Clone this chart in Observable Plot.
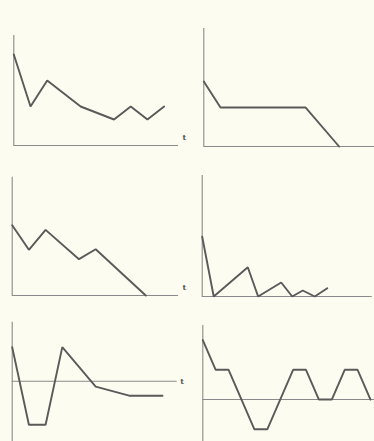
<!DOCTYPE html>
<html>
<head>
<meta charset="utf-8">
<script src="https://cdn.jsdelivr.net/npm/d3@7"></script>
<script src="https://cdn.jsdelivr.net/npm/@observablehq/plot@0.6"></script>
<style>
  html, body { margin: 0; padding: 0; background: #fcfcf0; }
  #chart { position: relative; width: 374px; height: 441px; overflow: hidden; background: #fcfcf0; }
  #chart svg { position: absolute; left: 0; top: 0; }
</style>
</head>
<body>
<div id="chart"></div>
<script>
// Panel data (x = step index, y = value)
const p1X = [0, 1, 2, 4, 6, 7, 8, 9];
const p1Y = [7, 3, 5, 3, 2, 3, 2, 3];

const p2X = [0, 1, 6.1, 8.1];
const p2Y = [5, 3, 3, 0];

const p3X = [0, 1, 2, 4, 5, 8];
const p3Y = [6, 3.9, 5.6, 3.1, 3.95, 0];

const p4X = [0, 0.69, 2.73, 3.35, 4.73, 5.39, 6.02, 6.74, 7.49];
const p4Y = [4.6, 0, 2.25, 0, 1.08, 0, 0.46, 0, 0.64];

const p5X = [0, 1, 2, 3, 5, 7, 9];
const p5Y = [2.35, -3, -3, 2.35, -0.37, -1, -1];

const p6X = [0, 1, 2, 4, 5, 7, 8, 9, 10, 11, 12, 13];
const p6Y = [2, 1, 1, -1, -1, 1, 1, 0, 0, 1, 1, 0];

const axisLabel = "t";

const W = 374, H = 441;
const lineColor = "#5a5a5a";
const axisColor = "#8a8a8a";

function panel(xs, ys, frame, xDomain, yDomain, opts = {}) {
  const data = xs.map((x, i) => ({x, y: ys[i]}));
  const marks = [
    Plot.ruleX([0], {stroke: axisColor, strokeWidth: 1.1}),
    Plot.ruleY([0], {stroke: axisColor, strokeWidth: 1.1}),
    Plot.line(data, {x: "x", y: "y", stroke: lineColor, strokeWidth: 1.9, strokeLinejoin: "miter"})
  ];
  if (opts.label) {
    marks.push(Plot.text([axisLabel], {
      text: d => d,
      frameAnchor: opts.anchor,
      dx: opts.dx, dy: opts.dy,
      fontSize: 8, fontWeight: "bold",
      fill: "#555", textAnchor: "start",
      fontFamily: "DejaVu Serif"
    }));
  }
  return Plot.plot({
    width: W, height: H,
    marginLeft: frame.l, marginRight: W - frame.r,
    marginTop: frame.t, marginBottom: H - frame.b,
    x: {domain: xDomain, axis: null},
    y: {domain: yDomain, axis: null},
    style: {background: "transparent", overflow: "visible"},
    marks
  });
}

const chart = document.getElementById("chart");
chart.append(panel(p1X, p1Y, {l: 13.3, r: 178, t: 35, b: 145}, [0, 9.86], [0, 8.46],
  {label: true, anchor: "bottom-right", dx: 4, dy: -6}));
chart.append(panel(p2X, p2Y, {l: 203.3, r: 374, t: 28, b: 146}, [0, 10.22], [0, 9.08]));
chart.append(panel(p3X, p3Y, {l: 11.7, r: 178, t: 176.7, b: 295}, [0, 9.96], [0, 10.1],
  {label: true, anchor: "bottom-right", dx: 4, dy: -6}));
chart.append(panel(p4X, p4Y, {l: 201.7, r: 371.7, t: 175, b: 296}, [0, 10.18], [0, 9.31]));
chart.append(panel(p5X, p5Y, {l: 11.7, r: 176.7, t: 321.7, b: 441}, [0, 9.88], [-4.16, 4.07],
  {label: true, anchor: "right", dx: 3, dy: 0}));
chart.append(panel(p6X, p6Y, {l: 202.3, r: 374, t: 325, b: 441}, [0, 13.31], [-1.41, 2.49]));
</script>
</body>
</html>
